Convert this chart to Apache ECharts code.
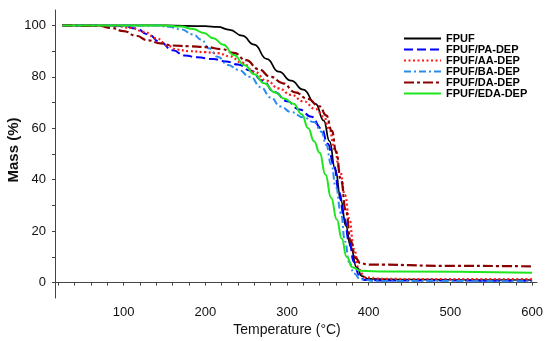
<!DOCTYPE html>
<html>
<head>
<meta charset="utf-8">
<script src="https://cdn.jsdelivr.net/npm/echarts@6/dist/echarts.min.js"></script>
<style>html,body{margin:0;padding:0;background:#fff;}#chart{width:550px;height:341px;}</style>
</head>
<body>
<div id="chart"></div>
<script>
// Tick labels
const xTickLabels = [100, 200, 300, 400, 500, 600];
const xMinorTicks = [20,40,60,80,100,120,140,160,180,200,220,240,260,280,300,320,340,360,380,400,420,440,460,480,500,520,540,560,580,600];
const yTickLabels = [0, 20, 40, 60, 80, 100];
const yMinorTicks = [0,10,20,30,40,50,60,70,80,90,100];
const seriesNames = ['FPUF','FPUF/PA-DEP','FPUF/AA-DEP','FPUF/BA-DEP','FPUF/DA-DEP','FPUF/EDA-DEP'];

// [temperature °C, mass %]
const fpuf = [[25,100],[100,100],[150,100],[200,99.7],[215,99.4],[230,98.3],[245,96],[260,92.5],[275,87],[290,82],[305,78.5],[320,75],[335,69.5],[345,63],[352,55],[359,44],[366,32],[372,22],[378,14],[385,6],[392,2.5],[400,1.4],[450,1.2],[500,1.1],[600,1]];
const paDep = [[25,100],[100,99.8],[115,98.8],[130,96.5],[145,93.5],[160,90.3],[175,88.3],[190,87.6],[210,86.9],[225,86],[240,84.8],[255,82.5],[270,78.5],[285,74],[300,70.5],[315,67.3],[330,64.5],[342,60],[350,54],[357,46],[364,35],[370,25],[376,16],[382,8],[388,3],[395,1],[420,0.8],[600,0.7]];
const aaDep = [[25,100],[90,99.8],[110,99],[125,97.5],[140,95],[155,92],[165,90.6],[180,90],[200,89.6],[215,89.2],[230,88],[245,85.5],[260,82],[275,78.5],[290,75.5],[305,73],[320,70.5],[335,67.5],[345,64.5],[352,59.5],[358,52],[365,43],[371,34],[376,25],[382,13],[388,5],[395,2],[420,1.4],[600,1.3]];
const baDep = [[25,100],[140,100],[155,99.5],[170,98.5],[185,96.5],[195,94.5],[205,91],[215,87.8],[228,84.6],[240,82.8],[255,80],[268,76],[280,72],[292,68.5],[305,66.3],[320,64.3],[333,62.4],[342,58.7],[348,53.5],[354,46],[360,37],[366,27],[371,16],[376,8],[382,3.5],[390,1.2],[410,0.6],[600,0.5]];
const daDep = [[25,100],[70,99.8],[85,99],[100,97.8],[115,96],[130,94.2],[145,93],[160,92.2],[180,91.9],[200,91.6],[220,90.8],[235,89.3],[250,86.5],[265,83],[280,80],[295,77.5],[310,74],[325,71.5],[340,68.5],[348,65],[355,59],[360,51],[366,40],[372,28],[378,16],[384,9.5],[390,7.5],[400,7],[500,6.5],[600,6.3]];
const edaDep = [[25,100],[150,100],[170,99.6],[185,98.6],[198,97.1],[210,95],[222,92.5],[235,88.5],[248,84.5],[260,81],[272,77.5],[285,74],[297,71.5],[308,69.5],[318,65.5],[326,60],[333,55],[340,50.5],[347,42],[354,33],[361,24.5],[367,17],[373,10],[380,6],[390,4.6],[420,4.3],[600,3.8]];

const seriesData = [fpuf, paDep, aaDep, baDep, daDep, edaDep];
const colors = ['#000000','#0000ff','#ff1a1a','#2b8cf0','#8b0000','#1ee61e'];
const dashes = ['solid',[9,4],[2,2.5],[7,3,2,3],[10,3,3,3],'solid'];
const widths = [1.7,2,2.2,2,2.2,2];

const chart = echarts.init(document.getElementById('chart'));
const axisFont = {fontFamily:'Arial, Liberation Sans, sans-serif', color:'#111', fontSize:13};
chart.setOption({
  animation:false,
  backgroundColor:'#fff',
  grid:{left:55, right:13, top:10, bottom:43, containLabel:false, outerBoundsMode:'none'},
  legend:{
    orient:'vertical', left:398, top:28, itemWidth:37, itemHeight:13, itemGap:0,
    data:seriesNames,
    itemStyle:{opacity:0, borderWidth:0},
    textStyle:{fontFamily:'Arial, Liberation Sans, sans-serif', fontWeight:'bold', fontSize:11, color:'#000'}
  },
  xAxis:{
    type:'value', min:16, max:606,
    name:'Temperature (°C)', nameLocation:'middle', nameGap:25, nameMoveOverlap:false,
    nameTextStyle:Object.assign({}, axisFont, {fontSize:14, padding:[0,18,0,0]}),
    axisLine:{lineStyle:{color:'#444'}},
    axisTick:{show:true, customValues:xMinorTicks, length:3, lineStyle:{color:'#444'}},
    axisLabel:Object.assign({customValues:xTickLabels, margin:8}, axisFont),
    splitLine:{show:false}
  },
  yAxis:{
    type:'value', min:-6, max:106,
    name:'Mass (%)', nameLocation:'middle', nameGap:34, nameRotate:90, nameMoveOverlap:false,
    nameTextStyle:Object.assign({}, axisFont, {fontSize:15, fontWeight:'bold', padding:[0,0,0,8]}),
    axisLine:{show:true, lineStyle:{color:'#444'}},
    axisTick:{show:true, customValues:yMinorTicks, length:3, lineStyle:{color:'#444'}},
    axisLabel:Object.assign({customValues:yTickLabels, margin:9}, axisFont),
    splitLine:{show:false}
  },
  series: seriesNames.map((n,i)=>({
    name:n, type:'line', data:seriesData[i], symbol:'none', showSymbol:false,
    smooth:0.5, smoothMonotone:'x',
    lineStyle:{color:colors[i], width:widths[i], type:dashes[i]},
    itemStyle:{color:colors[i]}
  }))
});
</script>
</body>
</html>
